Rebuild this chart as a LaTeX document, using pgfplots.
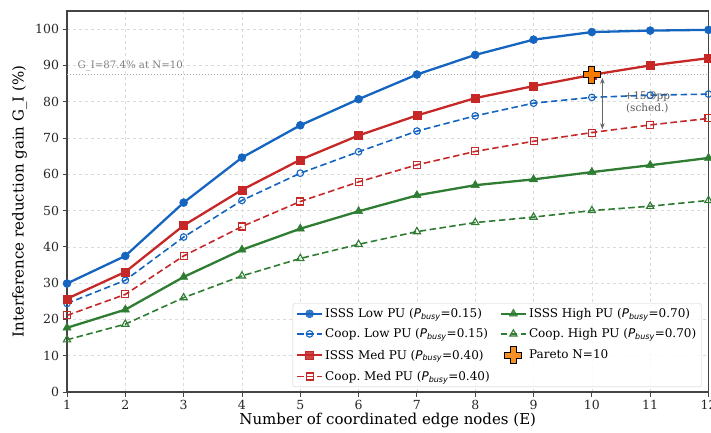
\documentclass[border=0pt]{standalone}
\usepackage{fontspec}
\setmainfont{DejaVu Serif}
\setsansfont{DejaVu Sans}
\usepackage{pgfplots}
\pgfplotsset{compat=1.18}
\usetikzlibrary{arrows.meta}
\frenchspacing
\definecolor{cLow}{HTML}{1565C0}
\definecolor{cMed}{HTML}{C62828}
\definecolor{cHigh}{HTML}{2E7D32}
\definecolor{cPar}{HTML}{F57C00}
\definecolor{axisgray}{HTML}{444444}

% filled plus marker for the Pareto point
\pgfdeclareplotmark{fatplus}{%
  \pgfpathmoveto{\pgfqpoint{0.36\pgfplotmarksize}{\pgfplotmarksize}}%
  \pgfpathlineto{\pgfqpoint{0.36\pgfplotmarksize}{0.36\pgfplotmarksize}}%
  \pgfpathlineto{\pgfqpoint{\pgfplotmarksize}{0.36\pgfplotmarksize}}%
  \pgfpathlineto{\pgfqpoint{\pgfplotmarksize}{-0.36\pgfplotmarksize}}%
  \pgfpathlineto{\pgfqpoint{0.36\pgfplotmarksize}{-0.36\pgfplotmarksize}}%
  \pgfpathlineto{\pgfqpoint{0.36\pgfplotmarksize}{-\pgfplotmarksize}}%
  \pgfpathlineto{\pgfqpoint{-0.36\pgfplotmarksize}{-\pgfplotmarksize}}%
  \pgfpathlineto{\pgfqpoint{-0.36\pgfplotmarksize}{-0.36\pgfplotmarksize}}%
  \pgfpathlineto{\pgfqpoint{-\pgfplotmarksize}{-0.36\pgfplotmarksize}}%
  \pgfpathlineto{\pgfqpoint{-\pgfplotmarksize}{0.36\pgfplotmarksize}}%
  \pgfpathlineto{\pgfqpoint{-0.36\pgfplotmarksize}{0.36\pgfplotmarksize}}%
  \pgfpathlineto{\pgfqpoint{-0.36\pgfplotmarksize}{\pgfplotmarksize}}%
  \pgfpathclose
  \pgfusepathqfillstroke}

\newcommand{\pb}{{\sffamily\itshape P}\textsubscript{\sffamily\itshape busy}}

\pgfplotstableread{
E  isssLow coopLow isssMed coopMed isssHigh coopHigh
1  29.9    24.4    25.7    21.1    17.7     14.4
2  37.5    30.8    33.1    26.9    22.7     18.7
3  52.2    42.7    45.9    37.5    31.7     26.0
4  64.6    52.8    55.7    45.6    39.2     32.0
5  73.5    60.3    64.0    52.5    45.0     36.8
6  80.7    66.2    70.7    57.9    49.8     40.7
7  87.5    71.9    76.2    62.6    54.2     44.2
8  92.9    76.1    81.0    66.3    57.0     46.7
9  97.1    79.6    84.3    69.1    58.6     48.2
10 99.2    81.2    87.4    71.5    60.6     50.0
11 99.6    81.8    90.0    73.6    62.5     51.2
12 99.8    82.1    92.0    75.4    64.5     52.8
}\gains

\begin{document}
\begin{tikzpicture}
\begin{axis}[
  at={(0pt,0pt)}, anchor=south west,
  scale only axis, width=641.5pt, height=381pt,
  xmin=1, xmax=12, ymin=0, ymax=105,
  xtick={1,...,12}, ytick={0,10,...,100},
  tick pos=left, tick align=outside, major tick length=4.5pt,
  tick style={axisgray, line width=0.9pt},
  axis line style={axisgray, line width=1.1pt},
  grid=major, grid style={dashed, black!14, line width=0.7pt},
  ticklabel style={font=\fontsize{12.5}{15}\selectfont, text=black!85},
  /pgf/number format/assume math mode=true,
  label style={font=\fontsize{15}{18}\selectfont},
  xlabel={Number of coordinated edge nodes (E)},
  ylabel={Interference reduction gain G\_I (\%)},
  xlabel style={yshift=3pt},
  ylabel style={yshift=1pt},
  legend columns=2,
  legend cell align=left,
  legend style={at={(0.989,0.013)}, anchor=south east,
    font=\fontsize{12}{14}\selectfont, draw=black!20, rounded corners=2pt,
    fill=white, fill opacity=0.85, text opacity=1, row sep=5.5pt,
    inner xsep=3pt, inner ysep=3pt,
    /tikz/every even column/.append style={column sep=8pt}},
  legend image code/.code={\draw[mark repeat=2, mark phase=2]
    plot coordinates {(0pt,0pt) (12.5pt,0pt) (25pt,0pt)};},
]
\addplot[forget plot, gray!70, dotted, line width=1pt] coordinates {(1,87.4) (12,87.4)};

\addplot[cLow, line width=2.3pt, mark=*, mark size=4pt, mark options={line width=0.5pt}]
  table[x=E, y=isssLow] {\gains};
\addlegendentry{ISSS Low PU (\pb=0.15)}
\addplot[cHigh, line width=2.3pt, mark=triangle*, mark size=4.8pt, mark options={line width=0.5pt}]
  table[x=E, y=isssHigh] {\gains};
\addlegendentry{ISSS High PU (\pb=0.70)}
\addplot[cLow, line width=1.6pt, dash pattern=on 6.5pt off 3.5pt, mark=o, mark size=3.3pt,
  mark options={solid, fill=white, line width=1.1pt}]
  table[x=E, y=coopLow] {\gains};
\addlegendentry{Coop. Low PU (\pb=0.15)}
\addplot[cHigh, line width=1.6pt, dash pattern=on 6.5pt off 3.5pt, mark=triangle, mark size=4.2pt,
  mark options={solid, fill=white, line width=1.1pt}]
  table[x=E, y=coopHigh] {\gains};
\addlegendentry{Coop. High PU (\pb=0.70)}
\addplot[cMed, line width=2.3pt, mark=square*, mark size=4pt, mark options={line width=0.5pt}]
  table[x=E, y=isssMed] {\gains};
\addlegendentry{ISSS Med PU (\pb=0.40)}
\addplot[only marks, mark=fatplus, mark size=8.5pt,
  mark options={fill=cPar, draw=black, line width=1.1pt},
  legend image code/.code={\path (0pt,0pt) (25pt,0pt);
    \draw[only marks] plot coordinates {(12.5pt,0pt)};}]
  coordinates {(10,87.4)};
\addlegendentry{Pareto N=10}
\addplot[cMed, line width=1.6pt, dash pattern=on 6.5pt off 3.5pt, mark=square, mark size=3.5pt,
  mark options={solid, fill=white, line width=1.1pt}]
  table[x=E, y=coopMed] {\gains};
\addlegendentry{Coop. Med PU (\pb=0.40)}

\node[anchor=west, text=black!50, font=\fontsize{10.2}{12}\selectfont]
  at (axis cs:1.12,90) {G\_I=87.4\% at N=10};
\draw[{Stealth[length=6pt]}-{Stealth[length=6pt]}, black!60, line width=1.2pt]
  (axis cs:10.18,86.6) -- (axis cs:10.18,72.4);
\node[align=center, text=black!65, font=\fontsize{10.5}{12.5}\selectfont]
  at (axis cs:10.95,79.8) {+15.9pp\\(sched.)};
\end{axis}
\pgfresetboundingbox
\useasboundingbox (-67pt,-40pt) rectangle (644pt,392pt);
\end{tikzpicture}
\end{document}
